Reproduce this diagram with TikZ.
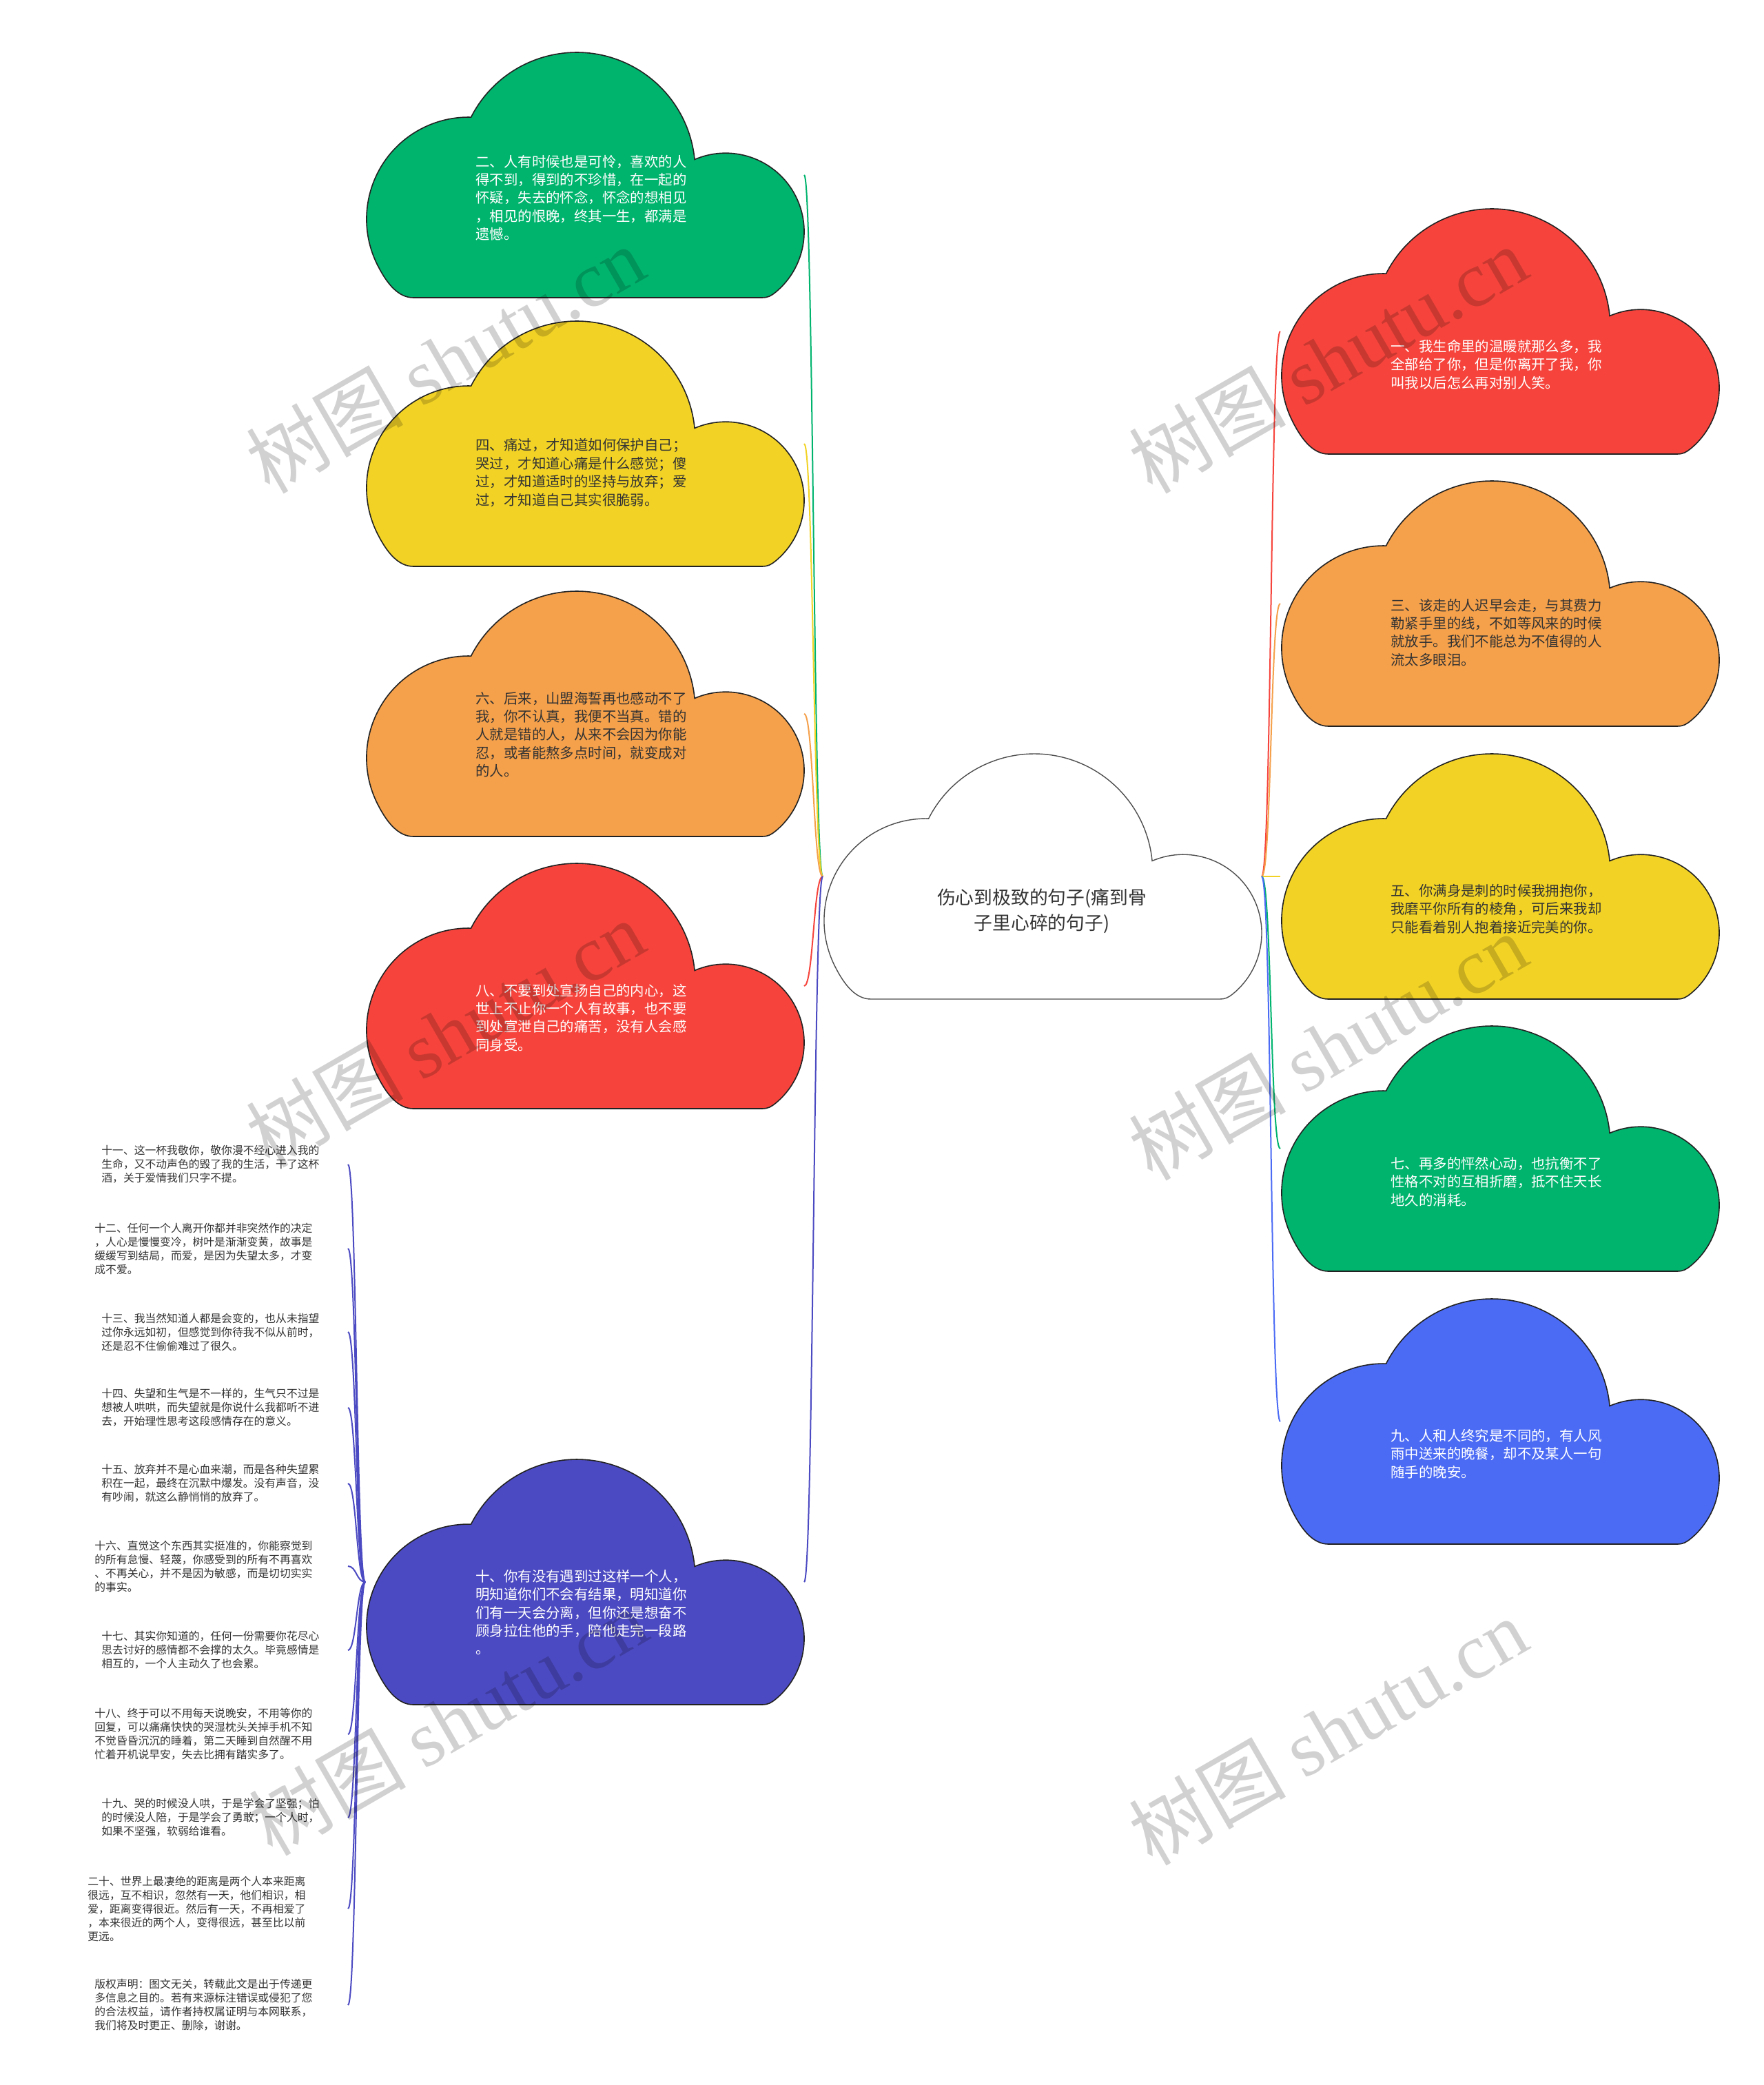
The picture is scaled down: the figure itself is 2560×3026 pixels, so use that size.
\documentclass[tikz,border=0pt]{standalone}
\usepackage{fontspec}
\newfontfamily\cjk{Noto Sans CJK SC}
\newfontfamily\wmlat{Liberation Serif}
\definecolor{cgreen}{HTML}{00B46E}
\definecolor{cyellow}{HTML}{F2D325}
\definecolor{corange}{HTML}{F5A04A}
\definecolor{cred}{HTML}{F6443C}
\definecolor{cindigo}{HTML}{4C4AC2}
\definecolor{cblue}{HTML}{4B6BF5}
\definecolor{cedge}{HTML}{222222}
\definecolor{tdark}{HTML}{333333}
\tikzset{
  cloudbox/.style={minimum width=318.5pt,minimum height=178pt,inner sep=0pt,outer sep=0pt,draw=none,anchor=north west},
  cloudline/.style={draw=cedge,line width=0.8pt},
  ctext/.style={font=\cjk\fontsize{10.2pt}{13.2pt}\selectfont,align=left,anchor=west,inner sep=0pt},
  ctw/.style={ctext,text=white},
  ctd/.style={ctext,text=tdark},
  itemtext/.style={font=\cjk\fontsize{7.9pt}{10pt}\selectfont,align=left,anchor=west,inner sep=0pt,text=tdark},
  conn/.style={line width=1pt},
  wm/.style={font=\cjk\fontsize{57pt}{62pt}\selectfont,text=black,text opacity=0.18,rotate=30,inner sep=0pt}
}
% cloud outline, local coordinates relative to top-left corner (#1,#2)
\newcommand\cloudpath[2]{({#1+70},{#2+356})
    .. controls ({#1+48},{#2+356}) and ({#1+31.7},{#2+336}) .. ({#1+18.1},{#2+309.2})
    arc[start angle=207,end angle=88.6,radius=74pt]
    arc[start angle=153.04,end angle=5.54,radius=86pt]
    arc[start angle=113.23,end angle=-50,radius=57pt]
    .. controls ({#1+588.6},{#2+353.7}) and ({#1+585},{#2+356}) .. ({#1+575},{#2+356}) -- cycle}
\newcommand\mycloud[4]{%
  \node[cloudbox] (#1) at (#2,#3) {};
  \path[cloudline,fill=#4] \cloudpath{#2}{#3};}
\newcommand\lconn[3]{\draw[conn,#3] (#1) .. controls ([xshift=-6.75pt]#1) and ([xshift=6.75pt]#2) .. (#2);}
\newcommand\rconn[3]{\draw[conn,#3] (#1) .. controls ([xshift=7.25pt]#1) and ([xshift=-7.25pt]#2) .. (#2);}
\newcommand\fconn[3]{\draw[conn,#3] (#1) .. controls ([xshift=-6.25pt]#1) and ([xshift=6.25pt]#2) .. (#2);}
\begin{document}
\begin{tikzpicture}[x=0.5pt,y=-0.5pt]
\useasboundingbox[fill=white] (0,0) rectangle (2560,3026);

% root
\node[cloudbox] (root) at (1194,1094) {};
\path[draw=cedge!80,line width=0.7pt,fill=white] \cloudpath{1194}{1094};
\node[font=\cjk\fontsize{13.4pt}{18.5pt}\selectfont,align=center,text=tdark] (roottext) at (1512,1322) {伤心到极致的句子(痛到骨\\子里心碎的句子)};

% left clouds
\mycloud{c2}{530}{76}{cgreen}
\mycloud{c4}{530}{466}{cyellow}
\mycloud{c6}{530}{858}{corange}
\mycloud{c8}{530}{1253}{cred}
\mycloud{c10}{530}{2118}{cindigo}
% right clouds
\mycloud{c1}{1858}{303}{cred}
\mycloud{c3}{1858}{698}{corange}
\mycloud{c5}{1858}{1094}{cyellow}
\mycloud{c7}{1858}{1489}{cgreen}
\mycloud{c9}{1858}{1885}{cblue}

% cloud texts
\node[ctw] (t2) at (690,287) {二、人有时候也是可怜，喜欢的人\\得不到，得到的不珍惜，在一起的\\怀疑，失去的怀念，怀念的想相见\\，相见的恨晚，终其一生，都满是\\遗憾。};
\node[ctd] (t4) at (690,686) {四、痛过，才知道如何保护自己；\\哭过，才知道心痛是什么感觉；傻\\过，才知道适时的坚持与放弃；爱\\过，才知道自己其实很脆弱。};
\node[ctd] (t6) at (690,1066) {六、后来，山盟海誓再也感动不了\\我，你不认真，我便不当真。错的\\人就是错的人，从来不会因为你能\\忍，或者能熬多点时间，就变成对\\的人。};
\node[ctw] (t8) at (690,1477) {八、不要到处宣扬自己的内心，这\\世上不止你一个人有故事，也不要\\到处宣泄自己的痛苦，没有人会感\\同身受。};
\node[ctw] (t10) at (690,2340) {十、你有没有遇到过这样一个人，\\明知道你们不会有结果，明知道你\\们有一天会分离，但你还是想奋不\\顾身拉住他的手，陪他走完一段路\\。};
\node[ctw] (t1) at (2018,529) {一、我生命里的温暖就那么多，我\\全部给了你，但是你离开了我，你\\叫我以后怎么再对别人笑。};
\node[ctd] (t3) at (2018,918) {三、该走的人迟早会走，与其费力\\勒紧手里的线，不如等风来的时候\\就放手。我们不能总为不值得的人\\流太多眼泪。};
\node[ctd] (t5) at (2018,1319) {五、你满身是刺的时候我拥抱你，\\我磨平你所有的棱角，可后来我却\\只能看着别人抱着接近完美的你。};
\node[ctw] (t7) at (2018,1715) {七、再多的怦然心动，也抗衡不了\\性格不对的互相折磨，抵不住天长\\地久的消耗。};
\node[ctw] (t9) at (2018,2110) {九、人和人终究是不同的，有人风\\雨中送来的晚餐，却不及某人一句\\随手的晚安。};

% small items
\node[itemtext] (i11) at (147,1690) {十一、这一杯我敬你，敬你漫不经心进入我的\\生命，又不动声色的毁了我的生活，干了这杯\\酒，关于爱情我们只字不提。};
\node[itemtext] (i12) at (137,1812) {十二、任何一个人离开你都并非突然作的决定\\，人心是慢慢变冷，树叶是渐渐变黄，故事是\\缓缓写到结局，而爱，是因为失望太多，才变\\成不爱。};
\node[itemtext] (i13) at (147,1933) {十三、我当然知道人都是会变的，也从未指望\\过你永远如初，但感觉到你待我不似从前时，\\还是忍不住偷偷难过了很久。};
\node[itemtext] (i14) at (147,2043) {十四、失望和生气是不一样的，生气只不过是\\想被人哄哄，而失望就是你说什么我都听不进\\去，开始理性思考这段感情存在的意义。};
\node[itemtext] (i15) at (147,2153) {十五、放弃并不是心血来潮，而是各种失望累\\积在一起，最终在沉默中爆发。没有声音，没\\有吵闹，就这么静悄悄的放弃了。};
\node[itemtext] (i16) at (137,2273) {十六、直觉这个东西其实挺准的，你能察觉到\\的所有怠慢、轻蔑，你感受到的所有不再喜欢\\、不再关心，并不是因为敏感，而是切切实实\\的事实。};
\node[itemtext] (i17) at (147,2395) {十七、其实你知道的，任何一份需要你花尽心\\思去讨好的感情都不会撑的太久。毕竟感情是\\相互的，一个人主动久了也会累。};
\node[itemtext] (i18) at (137,2517) {十八、终于可以不用每天说晚安，不用等你的\\回复，可以痛痛快快的哭湿枕头关掉手机不知\\不觉昏昏沉沉的睡着，第二天睡到自然醒不用\\忙着开机说早安，失去比拥有踏实多了。};
\node[itemtext] (i19) at (147,2638) {十九、哭的时候没人哄，于是学会了坚强；怕\\的时候没人陪，于是学会了勇敢；一个人时，\\如果不坚强，软弱给谁看。};
\node[itemtext] (i20) at (127,2770) {二十、世界上最凄绝的距离是两个人本来距离\\很远，互不相识，忽然有一天，他们相识，相\\爱，距离变得很近。然后有一天，不再相爱了\\，本来很近的两个人，变得很远，甚至比以前\\更远。};
\node[itemtext] (ibq) at (137,2910) {版权声明：图文无关，转载此文是出于传递更\\多信息之目的。若有来源标注错误或侵犯了您\\的合法权益，请作者持权属证明与本网联系，\\我们将及时更正、删除，谢谢。};

% item anchor points
\coordinate (e11) at (505,1690);
\coordinate (e12) at (505,1812);
\coordinate (e13) at (505,1933);
\coordinate (e14) at (505,2043);
\coordinate (e15) at (505,2153);
\coordinate (e16) at (505,2273);
\coordinate (e17) at (505,2395);
\coordinate (e18) at (505,2517);
\coordinate (e19) at (505,2638);
\coordinate (e20) at (505,2770);
\coordinate (ebq) at (505,2910);

% connectors
\lconn{root.west}{c2.east}{cgreen}
\lconn{root.west}{c4.east}{cyellow}
\lconn{root.west}{c6.east}{corange}
\lconn{root.west}{c8.east}{cred}
\lconn{root.west}{c10.east}{cindigo}
\rconn{root.east}{c1.west}{cred}
\rconn{root.east}{c3.west}{corange}
\rconn{root.east}{c5.west}{cyellow}
\rconn{root.east}{c7.west}{cgreen}
\rconn{root.east}{c9.west}{cblue}
\foreach \e in {e11,e12,e13,e14,e15,e16,e17,e18,e19,e20,ebq}{\fconn{c10.west}{\e}{cindigo}}

% watermarks
\node[wm] (wm1) at (646,522) {树图 {\wmlat shutu.cn}};
\node[wm] (wm2) at (1927,522) {树图 {\wmlat shutu.cn}};
\node[wm] (wm3) at (646,1500) {树图 {\wmlat shutu.cn}};
\node[wm] (wm4) at (1927,1519) {树图 {\wmlat shutu.cn}};
\node[wm] (wm5) at (650,2499) {树图 {\wmlat shutu.cn}};
\node[wm] (wm6) at (1927,2513) {树图 {\wmlat shutu.cn}};
\end{tikzpicture}
\end{document}
